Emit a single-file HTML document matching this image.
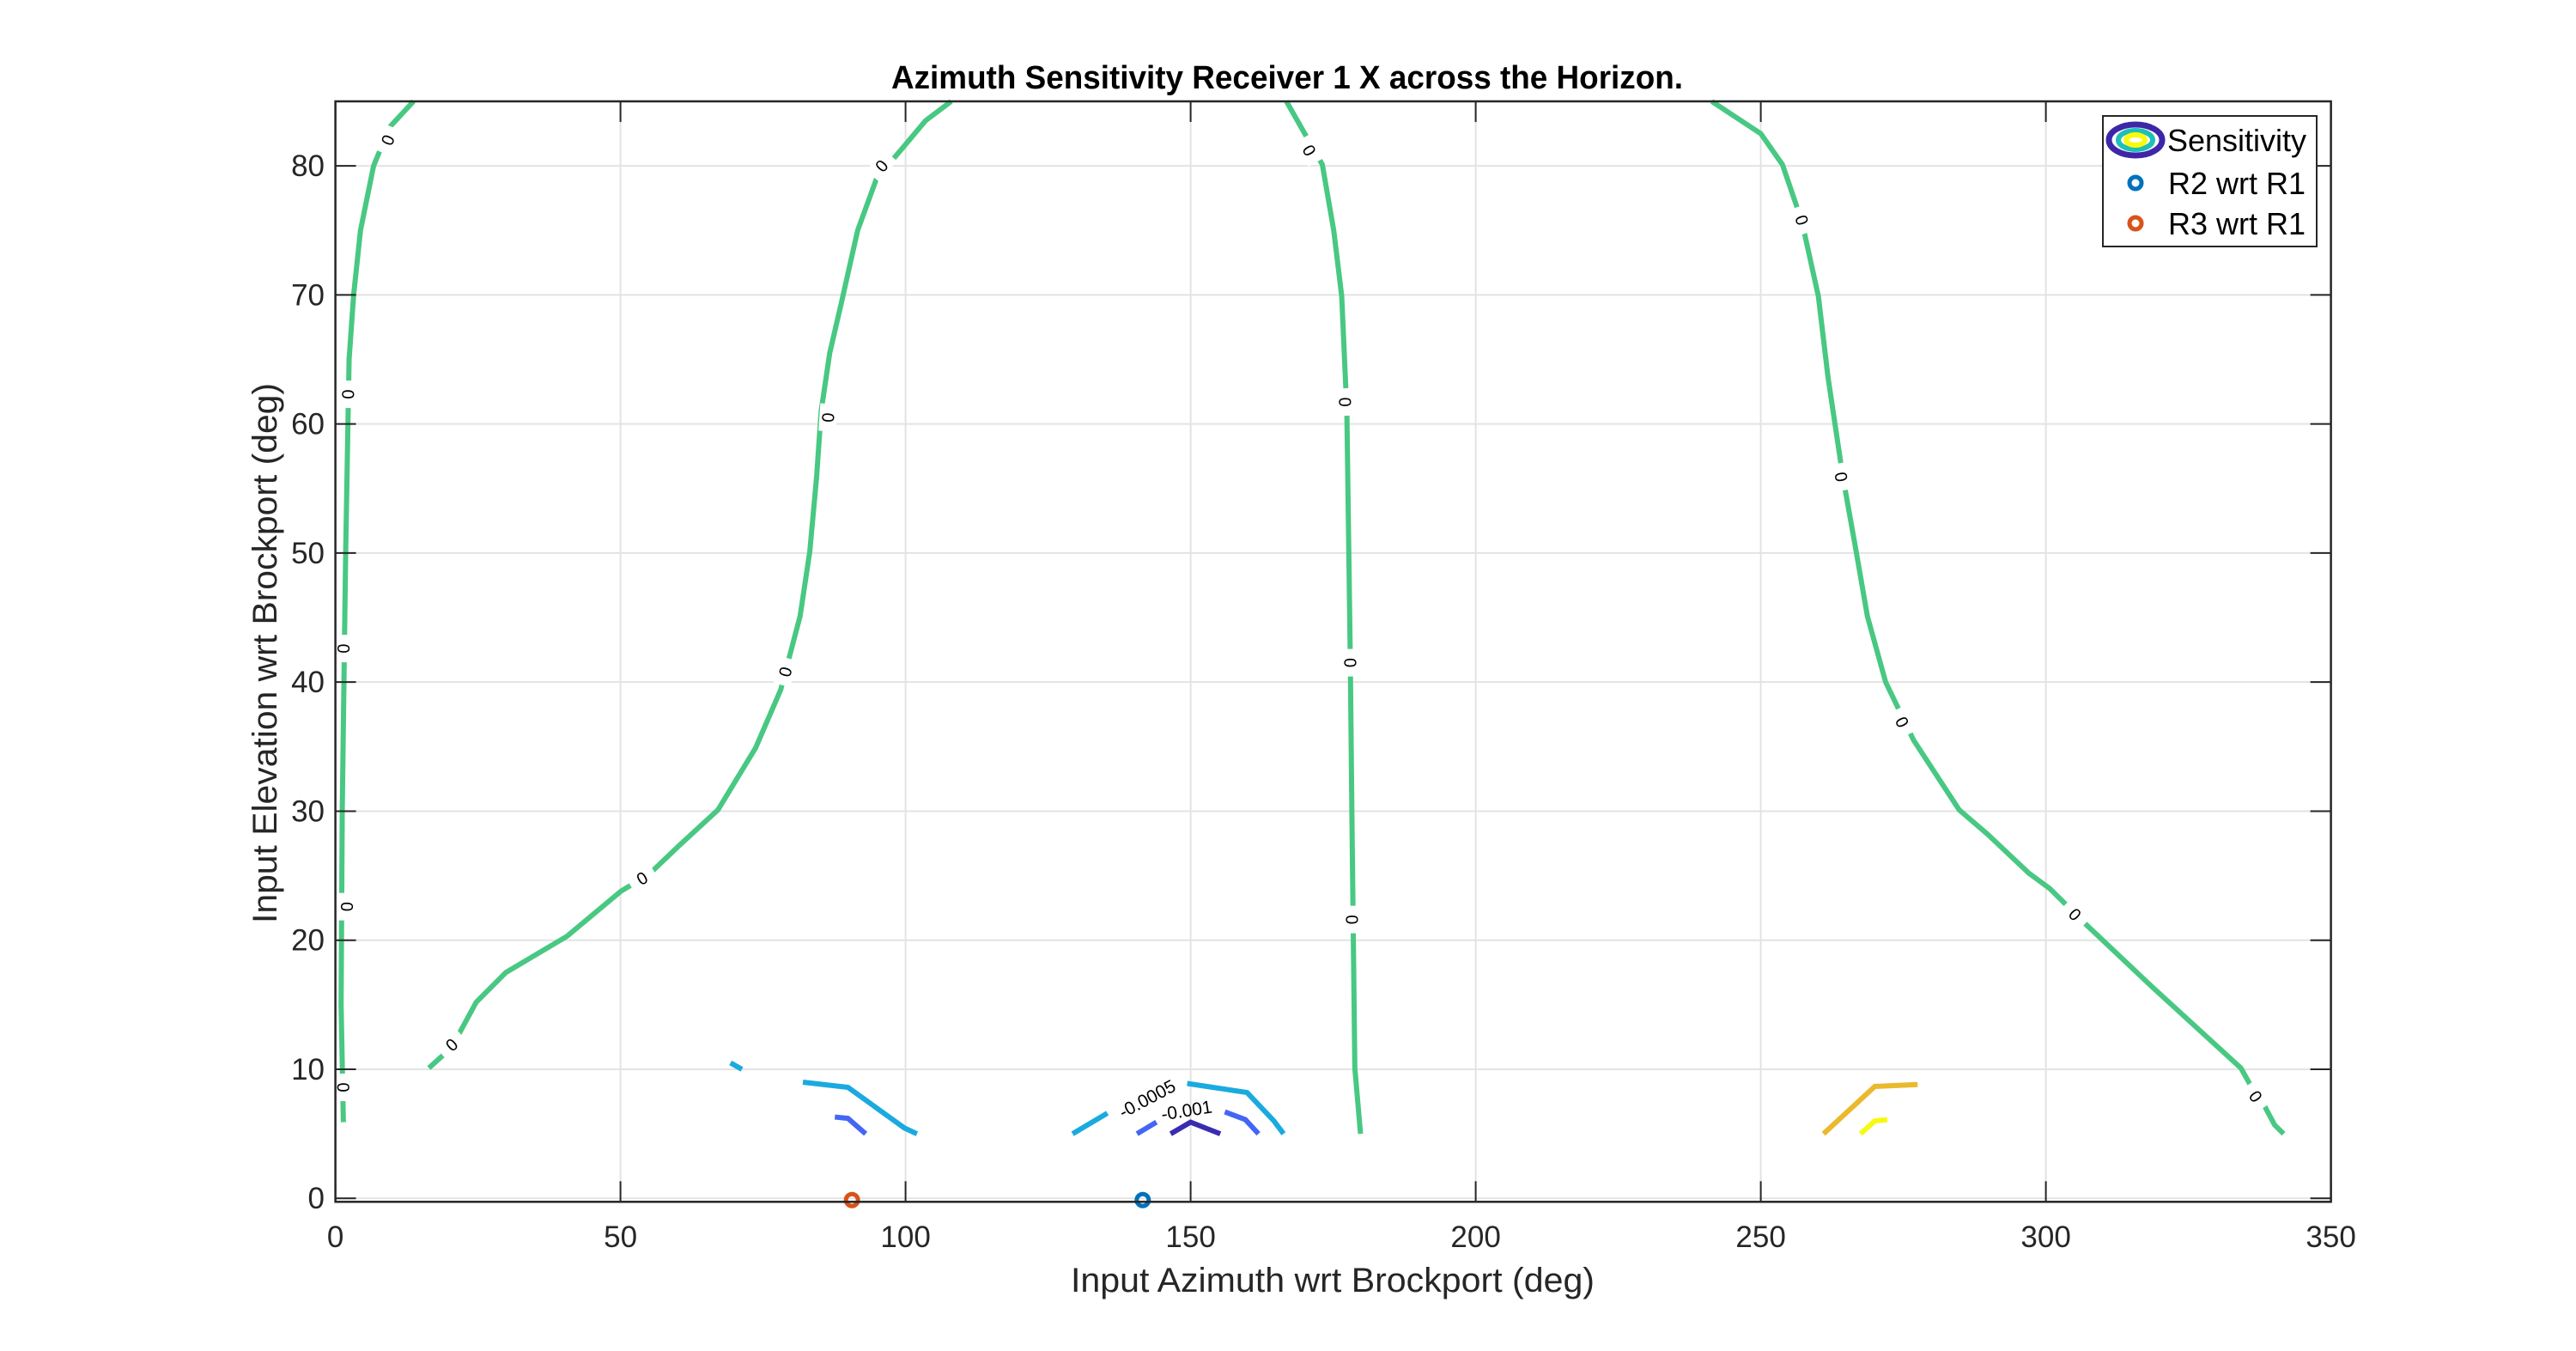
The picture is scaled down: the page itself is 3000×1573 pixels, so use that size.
<!DOCTYPE html>
<html><head><meta charset="utf-8"><style>
html,body{margin:0;padding:0;background:#fff;}
svg{display:block;font-family:"Liberation Sans",Arial,sans-serif;}
</style></head><body>
<svg id="chart" width="3000" height="1573" viewBox="0 0 3000 1573" xmlns="http://www.w3.org/2000/svg">
<rect width="3000" height="1573" fill="#fff"/>
<g id="grid"></g>
<g id="contours"></g>
<g id="labels"></g>
<g id="markers"></g>
<g id="axes"></g>
<text x="1038" y="103" font-size="38" font-weight="bold" textLength="922" lengthAdjust="spacingAndGlyphs" fill="#000">Azimuth Sensitivity Receiver 1 X across the Horizon.</text>
<text x="1247" y="1504" font-size="40" textLength="610" lengthAdjust="spacingAndGlyphs" fill="#262626">Input Azimuth wrt Brockport (deg)</text>
<text transform="translate(322,1075) rotate(-90)" x="0" y="0" font-size="40" textLength="629" lengthAdjust="spacingAndGlyphs" fill="#262626">Input Elevation wrt Brockport (deg)</text>
<g>
<rect x="2449" y="135" width="249" height="152" fill="#fff" stroke="#262626" stroke-width="2"/>
<g>
<ellipse cx="2487" cy="163" rx="31" ry="18" fill="none" stroke="#3e26a8" stroke-width="7"/>
<ellipse cx="2487" cy="163" rx="20" ry="11" fill="none" stroke="#1fbfb8" stroke-width="6"/>
<ellipse cx="2487" cy="163" rx="11" ry="6" fill="none" stroke="#f9fb0e" stroke-width="6"/>
<text x="2524" y="176" font-size="36" fill="#000">Sensitivity</text>
</g>
<g>
<circle cx="2487" cy="213" r="7" fill="none" stroke="#0072bd" stroke-width="5"/>
<text x="2525" y="226" font-size="36" fill="#000">R2 wrt R1</text>
</g>
<g>
<circle cx="2487" cy="260" r="7" fill="none" stroke="#d95319" stroke-width="5"/>
<text x="2525" y="273" font-size="36" fill="#000">R3 wrt R1</text>
</g>
</g>
</svg>
<script>
const xTicks=[0,50,100,150,200,250,300,350];
const yTicks=[0,10,20,30,40,50,60,70,80];
const xDomain=[0,350];
const yDomain=[-0.27,85];
// contour levels
const levelZero=0, levelM5=-0.0005, levelM10=-0.001, levelM15=-0.0015, levelP5=0.0005, levelP10=0.001;
// zero-level curves [az, el]
const zeroA=[[1.4,5.9],[1.0,15],[1.2,30],[1.8,50],[2.4,65],[3.2,70],[4.4,75],[6.7,80],[9.5,83],[13.7,85]];
const zeroB=[[16.4,10.1],[20.4,11.7],[24.7,15.2],[29.9,17.5],[40.6,20.3],[50.1,23.8],[55.0,25.1],[60.2,27.3],[67.1,30.1],[73.7,34.9],[78.1,39.4],[81.5,45.1],[83.2,50.1],[84.4,55.9],[85.2,61.0],[86.7,65.5],[88.7,69.3],[91.6,75.0],[94.9,79.0],[99.7,81.5],[103.5,83.5],[108.0,85]];
const zeroC=[[166.8,85],[173.1,80.1],[175.1,75.0],[176.5,69.9],[177.4,61.0],[178.0,41.9],[178.3,29.2],[178.8,10.1],[179.8,5.0]];
const zeroD=[[241.4,85],[250.0,82.5],[253.8,80.1],[257.2,75.7],[260.1,69.9],[261.8,63.6],[264.4,55.9],[266.7,50.2],[268.7,45.1],[271.9,40.0],[276.8,35.5],[284.8,30.1],[289.8,28.2],[297.0,25.2],[300.7,24.0],[307.1,21.2],[318.6,16.4],[334.2,10.1],[336.1,8.6],[338.3,7.2],[340.1,5.7],[341.7,5.0]];
// negative contours
const m5a=[[69.3,10.5],[71.3,10.0]];
const m5b=[[82.0,9.0],[89.9,8.6],[99.8,5.45],[102,5.0]];
const m5c=[[129.3,5.0],[135.4,6.6]];
const m5d=[[149.4,8.9],[159.9,8.2],[164.6,6.0],[166.3,5.0]];
const m10a=[[87.6,6.3],[89.9,6.2],[93,5.0]];
const m10b=[[140.6,5.0],[144,5.9]];
const m10c=[[156,6.7],[159.6,6.1],[161.9,5.0]];
const m15a=[[146.5,5.0],[150,5.9],[155.2,5.0]];
// positive contours
const p5a=[[261,5.0],[270,8.67],[277.5,8.82]];
const p10a=[[267.5,5.0],[270,6.0],[272.2,6.1]];
// zero labels [az, el, curveIndex]
const zeroLabels=[[1.4,8.6,0],[2.0,22.6,0],[1.4,42.6,0],[2.2,62.3,0],[9.2,82.0,0],
[20.4,11.9,1],[53.8,24.8,1],[78.9,40.8,1],[86.4,60.5,1],[95.8,80,1],
[170.8,81.2,2],[177.1,61.7,2],[178.0,41.5,2],[178.3,21.6,2],
[257.2,75.8,3],[264.1,55.9,3],[274.8,36.9,3],[305.1,22.0,3],[336.8,7.9,3]];
const textLabels=[["-0.0005",142.4,7.7],["-0.001",149.3,6.8]];
const r2=[141.6,0];
const r3=[90.6,0];

const L=390.6,R=2714.6,T=118,B=1399.3;
const X=v=>L+(v-xDomain[0])/(xDomain[1]-xDomain[0])*(R-L);
const Y=v=>B-(v-yDomain[0])/(yDomain[1]-yDomain[0])*(B-T);
const NS="http://www.w3.org/2000/svg";
function mk(tag,attrs,parent){const e=document.createElementNS(NS,tag);for(const k in attrs)e.setAttribute(k,attrs[k]);parent.appendChild(e);return e;}
const grid=document.getElementById('grid'),axes=document.getElementById('axes');
xTicks.forEach(t=>{
 const g=mk('line',{x1:X(t),x2:X(t),y1:T,y2:B,stroke:'#e3e3e3','stroke-width':2},grid);
 
 
 mk('line',{x1:X(t),x2:X(t),y1:B,y2:B-24,stroke:'#262626','stroke-width':2},axes);
 mk('line',{x1:X(t),x2:X(t),y1:T,y2:T+24,stroke:'#262626','stroke-width':2},axes);
 const tx=mk('text',{x:X(t),y:1452,'font-size':35,'text-anchor':'middle',fill:'#262626'},axes);
 tx.textContent=t;
 
 
});
yTicks.forEach(t=>{
 const g=mk('line',{x1:L,x2:R,y1:Y(t),y2:Y(t),stroke:'#e3e3e3','stroke-width':2},grid);
 
 
 mk('line',{x1:L,x2:L+24,y1:Y(t),y2:Y(t),stroke:'#262626','stroke-width':2},axes);
 mk('line',{x1:R,x2:R-24,y1:Y(t),y2:Y(t),stroke:'#262626','stroke-width':2},axes);
 const tx=mk('text',{x:378,y:Y(t)+12,'font-size':35,'text-anchor':'end',fill:'#262626'},axes);
 tx.textContent=t;
 
 
});
const box=mk('rect',{x:L,y:T,width:R-L,height:B-T,fill:'none',stroke:'#262626','stroke-width':2.5},axes);



const cont=document.getElementById('contours');
function curve(pts,color,name){
 const p=mk('polyline',{points:pts.map(q=>X(q[0])+','+Y(q[1])).join(' '),fill:'none',stroke:color,'stroke-width':6,'stroke-linejoin':'miter'},cont);
 
 
}
const zeroCurves=[zeroA,zeroB,zeroC,zeroD];
const cZero='#48c882';
zeroCurves.forEach((c,i)=>curve(c,cZero,'contour-zero-'+i));
[m5a,m5b,m5c,m5d].forEach(c=>curve(c,'#1aaadf','contour-neg-0005'));
[m10a,m10b,m10c].forEach(c=>curve(c,'#4466f5','contour-neg-001'));
curve(m15a,'#3a2cb0','contour-neg-0015');
curve(p5a,'#ebb92e','contour-pos-0005');
curve(p10a,'#f7f914','contour-pos-001');

const lab=document.getElementById('labels');
function angleAt(c,x,y){
 let best=1e9,ang=0;
 for(let i=0;i<c.length-1;i++){
  const x1=X(c[i][0]),y1=Y(c[i][1]),x2=X(c[i+1][0]),y2=Y(c[i+1][1]);
  const mx=(x1+x2)/2,my=(y1+y2)/2;const d=Math.hypot(mx-x,my-y);
  if(d<best){best=d;ang=Math.atan2(y2-y1,x2-x1)*180/Math.PI;}
 }
 if(ang>90)ang-=180; if(ang<-90)ang+=180;
 return ang;
}
zeroLabels.forEach(l=>{
 const px=X(l[0]),py=Y(l[1]);
 const a=angleAt(zeroCurves[l[2]],px,py);
 const g=mk('g',{transform:`translate(${px},${py}) rotate(${a})`},lab);
 
 
 mk('rect',{x:-16,y:-10,width:32,height:20,fill:'#fff'},g);
 const t=mk('text',{x:0,y:7,'font-size':20,'text-anchor':'middle',fill:'#000'},g);
 t.textContent='0';
});
textLabels.forEach((l,i)=>{
 const g=mk('g',{transform:`translate(${X(l[1])},${Y(l[2])}) rotate(${i===0?-28:-9})`},lab);
 
 
 const t=mk('text',{x:0,y:7,'font-size':21,'text-anchor':'middle',fill:'#000'},g);
 t.textContent=l[0];
});
const mg=document.getElementById('markers');
const m2=mk('circle',{cx:X(r2[0]),cy:Y(r2[1])+2,r:7,fill:'none',stroke:'#0072bd','stroke-width':5},mg);


const m3=mk('circle',{cx:X(r3[0]),cy:Y(r3[1])+2,r:7,fill:'none',stroke:'#d95319','stroke-width':5},mg);


</script>
</body></html>
